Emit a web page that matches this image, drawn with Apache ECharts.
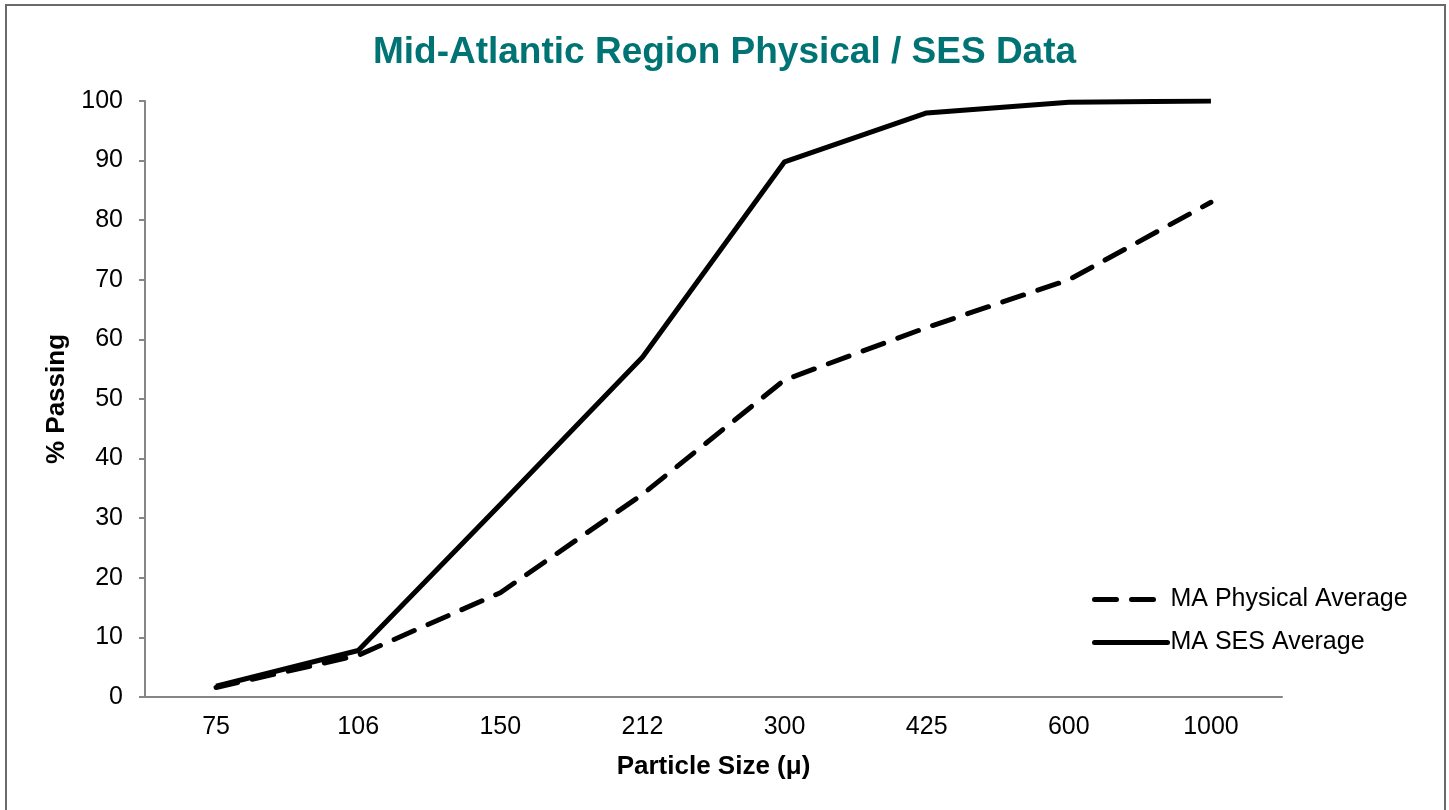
<!DOCTYPE html>
<html>
<head>
<meta charset="utf-8">
<script src="https://cdn.jsdelivr.net/npm/echarts@6/dist/echarts.min.js"></script>
<style>
html,body{margin:0;padding:0;background:#fff;}
#chart{position:absolute;left:0;top:0;width:1449px;height:810px;}
#frame{position:absolute;left:5px;top:4px;width:1437px;height:830px;border:2px solid #6a6a6a;pointer-events:none;}
</style>
</head>
<body>
<div id="chart"></div>
<div id="frame"></div>
<script>
const categories = ['75','106','150','212','300','425','600','1000'];
const physicalAvg = [1.6, 7.0, 17.5, 34, 53.2, 62, 70, 83];
const sesAvg = [1.8, 7.8, 32.3, 57, 89.8, 98, 99.8, 100];
const yTicks = {min:0, max:100, interval:10};

const font = 'Liberation Sans, Arial, sans-serif';
const chart = echarts.init(document.getElementById('chart'));
chart.setOption({
  animation:false,
  title:{
    text:'Mid-Atlantic Region Physical / SES Data',
    left:'center', top:29,
    textStyle:{color:'#007474', fontSize:37, fontWeight:'bold', fontFamily:font}
  },
  legend:{
    orient:'vertical', left:1087, top:582, itemWidth:73, itemHeight:14, itemGap:18,
    itemStyle:{opacity:0},
    lineStyle:{width:5, cap:'round'},
    textStyle:{fontSize:25, fontFamily:font, color:'#000', padding:[0,0,0,-2]},
    data:['MA Physical Average','MA SES Average']
  },
  grid:{left:145, right:167, top:101, bottom:113},
  xAxis:{
    type:'category', data:categories, boundaryGap:true,
    name:'Particle Size (μ)', nameLocation:'middle', nameGap:57,
    nameTextStyle:{fontSize:26, fontWeight:'bold', fontFamily:font, color:'#000'},
    axisLine:{lineStyle:{color:'#868686', width:2}},
    axisTick:{show:false},
    axisLabel:{fontSize:25, fontFamily:font, color:'#000', margin:18}
  },
  yAxis:{
    type:'value', min:yTicks.min, max:yTicks.max, interval:yTicks.interval,
    name:'% Passing', nameLocation:'middle', nameRotate:90, nameGap:75,
    nameTextStyle:{fontSize:26, fontWeight:'bold', fontFamily:font, color:'#000'},
    axisLine:{show:true, lineStyle:{color:'#868686', width:2}},
    axisTick:{show:true, length:6, lineStyle:{color:'#868686', width:2}},
    splitLine:{show:false},
    axisLabel:{fontSize:25, fontFamily:font, color:'#000', margin:22}
  },
  series:[
    {name:'MA Physical Average', type:'line', data:physicalAvg, symbol:'none', z:3,
     lineStyle:{color:'#000', width:5, type:[22,15], cap:'round'}, itemStyle:{color:'#000'}},
    {name:'MA SES Average', type:'line', data:sesAvg, symbol:'none', z:2,
     lineStyle:{color:'#000', width:5}, itemStyle:{color:'#000'}}
  ]
});
</script>
</body>
</html>
